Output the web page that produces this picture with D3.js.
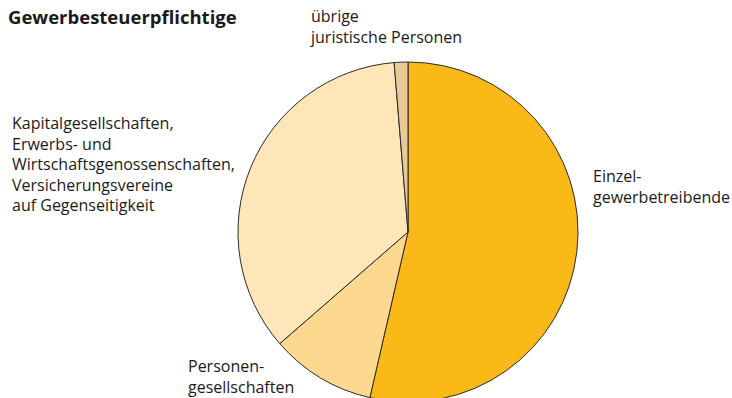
<!DOCTYPE html>
<html>
<head>
<meta charset="utf-8">
<script src="https://cdn.jsdelivr.net/npm/d3@7"></script>
<style>
  html, body { margin: 0; padding: 0; background: #fff; }
  svg { display: block; }
  text { font-family: "Open Sans", "Noto Sans", sans-serif; fill: #1a1a1a; }
</style>
</head>
<body>
<svg id="chart" width="732" height="398"></svg>
<script>
// Shares of taxpayers (percent), clockwise from 12 o'clock
const categories = [
  "Einzelgewerbetreibende",
  "Personengesellschaften",
  "Kapitalgesellschaften",
  "übrige juristische Personen"
];
const shares = [53.6, 10.0, 35.1, 1.3];
const sliceColors = ["#fbb917", "#fdd88f", "#fee6b8", "#e9c996"];

// Label lines for each category
const labelLines = [
  ["Einzel-", "gewerbetreibende"],
  ["Personen-", "gesellschaften"],
  ["Kapitalgesellschaften,", "Erwerbs- und", "Wirtschaftsgenossenschaften,", "Versicherungsvereine", "auf Gegenseitigkeit"],
  ["übrige", "juristische Personen"]
];
const title = "Gewerbesteuerpflichtige";

const svg = d3.select("#chart");
const cx = 408, cy = 232, radius = 170;

svg.append("text")
  .attr("x", 8).attr("y", 24)
  .attr("font-size", 18.5)
  .attr("font-weight", "bold")
  .text(title);

const data = categories.map((c, i) => ({ name: c, value: shares[i], color: sliceColors[i], lines: labelLines[i] }));

const pie = d3.pie().sort(null).value(d => d.value).startAngle(0).endAngle(2 * Math.PI);
const arc = d3.arc().innerRadius(0).outerRadius(radius);

const g = svg.append("g").attr("transform", `translate(${cx},${cy})`);
g.selectAll("path")
  .data(pie(data))
  .join("path")
  .attr("d", arc)
  .attr("fill", d => d.data.color)
  .attr("stroke", "#2b2b2b")
  .attr("stroke-width", 1)
  .attr("stroke-linejoin", "round");

// Label anchor (x, first baseline) per category
const labelPos = [
  { x: 593, y: 182 },
  { x: 188, y: 372 },
  { x: 12, y: 129 },
  { x: 311, y: 22 }
];
const lineH = 20.5;

data.forEach((d, i) => {
  const p = labelPos[i];
  const t = svg.append("text")
    .attr("font-size", 16);
  d.lines.forEach((ln, j) => {
    t.append("tspan")
      .attr("x", p.x)
      .attr("y", p.y + j * lineH)
      .text(ln);
  });
});
</script>
</body>
</html>
